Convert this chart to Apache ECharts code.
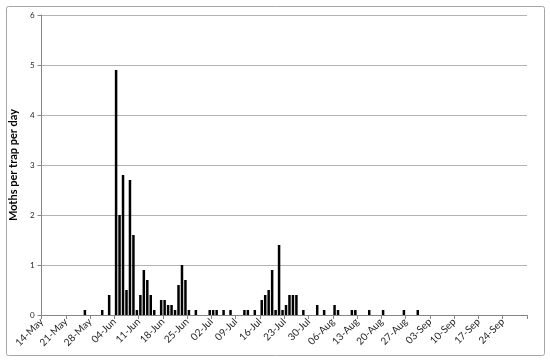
<!DOCTYPE html>
<html>
<head>
<meta charset="utf-8">
<script src="https://cdn.jsdelivr.net/npm/echarts@6/dist/echarts.min.js"></script>
<style>
  html, body { margin: 0; padding: 0; background: #fff; }
  #main { width: 550px; height: 362px; }
</style>
</head>
<body>
<div id="main"></div>
<script>
// catch dates (day-month) and moths per trap per day
var dates = ['26-May', '31-May', '02-Jun', '04-Jun', '05-Jun', '06-Jun', '07-Jun', '08-Jun', '09-Jun',
  '10-Jun', '11-Jun', '12-Jun', '13-Jun', '14-Jun', '15-Jun', '17-Jun', '18-Jun', '19-Jun', '20-Jun',
  '21-Jun', '22-Jun', '23-Jun', '24-Jun', '25-Jun', '27-Jun', '01-Jul', '02-Jul', '03-Jul', '05-Jul',
  '07-Jul', '11-Jul', '12-Jul', '14-Jul', '16-Jul', '17-Jul', '18-Jul', '19-Jul', '20-Jul', '21-Jul',
  '22-Jul', '23-Jul', '24-Jul', '25-Jul', '26-Jul', '28-Jul', '01-Aug', '03-Aug', '06-Aug', '07-Aug',
  '11-Aug', '12-Aug', '16-Aug', '20-Aug', '26-Aug', '30-Aug'];
var moths = [0.1, 0.1, 0.4, 4.9, 2.0, 2.8, 0.5, 2.7, 1.6,
  0.1, 0.4, 0.9, 0.7, 0.4, 0.1, 0.3, 0.3, 0.2, 0.2,
  0.1, 0.6, 1.0, 0.7, 0.1, 0.1, 0.1, 0.1, 0.1, 0.1,
  0.1, 0.1, 0.1, 0.1, 0.3, 0.4, 0.5, 0.9, 0.1, 1.4,
  0.1, 0.2, 0.4, 0.4, 0.4, 0.1, 0.2, 0.1, 0.2, 0.1,
  0.1, 0.1, 0.1, 0.1, 0.1, 0.1];
// weekly tick labels on the x axis
var tickLabels = ['14-May', '21-May', '28-May', '04-Jun', '11-Jun', '18-Jun', '25-Jun', '02-Jul',
  '09-Jul', '16-Jul', '23-Jul', '30-Jul', '06-Aug', '13-Aug', '20-Aug', '27-Aug', '03-Sep',
  '10-Sep', '17-Sep', '24-Sep'];

var monthIdx = {May: 4, Jun: 5, Jul: 6, Aug: 7, Sep: 8, Oct: 9};
// days since 14-May
function dayNum(s) {
  var p = s.split('-');
  return (Date.UTC(2000, monthIdx[p[1]], +p[0]) - Date.UTC(2000, 4, 14)) / 86400000;
}

var barData = [];
for (var i = 0; i < dates.length; i++) {
  barData.push([dayNum(dates[i]) + 0.5, moths[i]]);
}

var myChart = echarts.init(document.getElementById('main'));

var option = {
  animation: false,
  graphic: [{
    type: 'rect',
    shape: {x: 6.5, y: 6.5, width: 538, height: 349, r: 2},
    style: {fill: 'none', stroke: '#a6a6a6', lineWidth: 1}
  }],
  grid: {left: 41, top: 15, width: 486, height: 300},
  xAxis: {
    type: 'value',
    min: 0,
    max: 140,
    interval: 7,
    axisLine: {show: true, lineStyle: {color: '#868686'}},
    axisTick: {show: true, length: 4, lineStyle: {color: '#868686'}},
    splitLine: {show: false},
    axisLabel: {
      rotate: 45,
      margin: 5,
      fontFamily: 'Lato',
      fontSize: 10,
      color: '#262626',
      formatter: function (v) { return tickLabels[Math.round(v / 7)] || ''; }
    }
  },
  yAxis: {
    type: 'value',
    min: 0,
    max: 6,
    interval: 1,
    name: 'Moths per trap per day',
    nameLocation: 'middle',
    nameGap: 20,
    nameTextStyle: {fontFamily: 'Lato', fontSize: 11, fontWeight: 'bold', color: '#000'},
    axisLine: {show: true, lineStyle: {color: '#868686'}},
    axisTick: {show: true, length: 4, lineStyle: {color: '#868686'}},
    axisLabel: {fontFamily: 'Lato', fontSize: 8, color: '#262626', margin: 7},
    splitLine: {lineStyle: {color: '#b3b3b3', width: 1}}
  },
  series: [{
    type: 'bar',
    data: barData,
    barWidth: 2.5,
    itemStyle: {color: '#000'}
  }]
};

myChart.setOption(option);
</script>
</body>
</html>
